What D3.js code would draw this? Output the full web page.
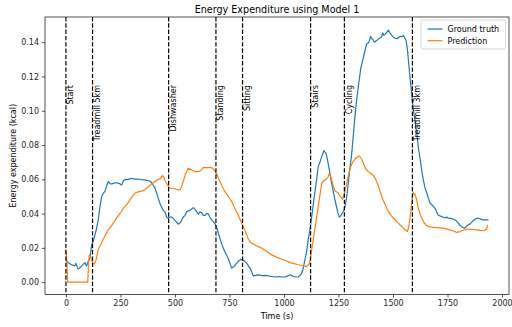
<!DOCTYPE html>
<html>
<head>
<meta charset="utf-8">
<script src="https://cdn.jsdelivr.net/npm/d3@7"></script>
<style>
  body { margin: 0; background: #fff; }
  svg { display: block; font-family: "DejaVu Sans", sans-serif; }
</style>
</head>
<body>
<svg id="chart" width="512" height="327"></svg>
<script>
// ground truth (time s, kcal)
const truthTime = [0,10,18,30,41,45,50,56,65,72,80,87,95,102,110,118,125,133,140,148,156,164,172,179,186,194,202,210,220,233,245,255,263,271,285,300,315,332,345,362,375,385,393,400,408,416,423,431,438,446,454,462,469,478,486,500,516,526,538,546,554,569,584,595,607,614,622,630,638,645,653,660,668,678,687,696,706,718,729,744,752,760,770,783,793,803,812,821,832,844,852,859,870,882,900,915,928,945,959,975,990,1005,1015,1028,1036,1043,1055,1066,1075,1081,1088,1096,1104,1111,1119,1127,1134,1142,1150,1157,1165,1173,1183,1193,1200,1208,1215,1223,1232,1241,1248,1254,1262,1269,1275,1280,1288,1295,1302,1310,1318,1325,1333,1342,1352,1362,1372,1379,1387,1392,1397,1403,1409,1415,1422,1430,1440,1447,1453,1458,1463,1470,1479,1486,1494,1505,1517,1525,1532,1540,1547,1554,1560,1566,1571,1576,1581,1587,1593,1601,1609,1616,1624,1632,1639,1647,1655,1662,1670,1680,1693,1700,1708,1718,1731,1740,1747,1754,1765,1777,1788,1800,1808,1815,1822,1830,1840,1853,1865,1876,1884,1892,1905,1915,1925,1938];
const truthValues = [0.013,0.0115,0.0107,0.010,0.0095,0.011,0.0095,0.0076,0.0085,0.0095,0.0105,0.0114,0.0095,0.012,0.014,0.0217,0.024,0.0276,0.031,0.0363,0.044,0.050,0.052,0.053,0.056,0.0587,0.0575,0.0573,0.0578,0.058,0.0575,0.0567,0.059,0.060,0.0598,0.0606,0.0601,0.0602,0.0598,0.0597,0.0592,0.059,0.058,0.0567,0.055,0.052,0.049,0.046,0.044,0.042,0.041,0.038,0.0373,0.038,0.0379,0.036,0.0338,0.035,0.038,0.039,0.041,0.042,0.0435,0.042,0.0396,0.041,0.0406,0.039,0.039,0.040,0.0398,0.038,0.0363,0.035,0.0334,0.030,0.0257,0.021,0.0178,0.014,0.011,0.0082,0.009,0.011,0.0125,0.0134,0.0128,0.012,0.0105,0.0082,0.006,0.0037,0.004,0.0043,0.0038,0.004,0.0037,0.0033,0.003,0.0033,0.0031,0.003,0.0035,0.0043,0.0038,0.0033,0.003,0.003,0.004,0.0052,0.008,0.013,0.018,0.0247,0.031,0.038,0.045,0.0528,0.060,0.0674,0.070,0.0732,0.0767,0.0752,0.071,0.0655,0.060,0.0548,0.049,0.044,0.040,0.038,0.039,0.0406,0.042,0.044,0.050,0.0577,0.066,0.0742,0.0857,0.096,0.106,0.115,0.1246,0.130,0.1353,0.139,0.1395,0.141,0.1434,0.142,0.1414,0.140,0.1407,0.1415,0.1426,0.143,0.1454,0.144,0.1446,0.1455,0.147,0.1455,0.144,0.1425,0.142,0.1425,0.1434,0.1432,0.144,0.1425,0.141,0.136,0.129,0.122,0.1158,0.108,0.101,0.094,0.0869,0.079,0.0723,0.065,0.0597,0.055,0.052,0.049,0.046,0.045,0.0431,0.041,0.039,0.0385,0.0379,0.0375,0.038,0.0373,0.0372,0.0367,0.036,0.0344,0.033,0.0324,0.0318,0.0315,0.033,0.034,0.0355,0.0367,0.0372,0.0373,0.0366,0.0363,0.0363,0.0363];

// model prediction
const predTime = [0,5,8,100,104,107,112,118,124,130,138,148,160,171,183,194,210,225,245,263,280,294,305,317,335,355,367,378,390,400,412,423,432,442,448,455,462,470,477,486,500,516,525,532,538,548,561,572,584,595,607,618,630,645,661,672,683,695,706,718,729,745,760,775,790,802,813,825,836,846,859,878,898,920,944,965,989,1010,1028,1043,1060,1073,1090,1104,1116,1125,1134,1145,1157,1165,1173,1183,1193,1201,1208,1213,1219,1226,1234,1249,1258,1269,1278,1288,1295,1303,1315,1326,1336,1346,1355,1364,1375,1387,1397,1407,1416,1425,1436,1448,1463,1479,1497,1517,1532,1547,1558,1566,1573,1581,1587,1593,1601,1609,1616,1624,1632,1643,1655,1670,1685,1710,1731,1761,1780,1792,1803,1815,1835,1853,1870,1884,1900,1915,1925,1930,1934];
const predValues = [0.019,0.010,0.0,0.0,0.012,0.016,0.0155,0.013,0.011,0.0105,0.013,0.019,0.022,0.025,0.028,0.0305,0.033,0.036,0.0395,0.043,0.0455,0.048,0.050,0.052,0.0528,0.0534,0.0545,0.0557,0.057,0.058,0.059,0.060,0.0603,0.0622,0.0615,0.059,0.0577,0.056,0.0548,0.0548,0.0545,0.0538,0.054,0.0565,0.0587,0.063,0.0665,0.0658,0.065,0.0645,0.0645,0.065,0.067,0.0668,0.067,0.0665,0.065,0.062,0.0587,0.0555,0.0528,0.050,0.047,0.043,0.039,0.0357,0.0324,0.029,0.0252,0.0232,0.0223,0.021,0.0198,0.018,0.0159,0.0146,0.0134,0.0125,0.0114,0.011,0.0103,0.010,0.0095,0.0091,0.0105,0.017,0.0247,0.034,0.044,0.051,0.0577,0.059,0.060,0.061,0.0636,0.062,0.0597,0.056,0.0532,0.052,0.050,0.0484,0.052,0.0577,0.062,0.0665,0.070,0.0717,0.073,0.0736,0.072,0.0694,0.066,0.0645,0.0635,0.0626,0.061,0.0587,0.055,0.050,0.0455,0.0412,0.038,0.0353,0.0335,0.0315,0.0303,0.0295,0.033,0.0402,0.048,0.0522,0.051,0.048,0.0431,0.040,0.0373,0.0345,0.0328,0.0323,0.032,0.0317,0.0315,0.0305,0.0297,0.029,0.0293,0.030,0.0307,0.031,0.0307,0.0305,0.0302,0.030,0.0305,0.031,0.0334];

// activity boundaries
const activityTimes = [0, 122, 471, 688, 810, 1122, 1277, 1589];
const activityNames = ['Start', 'Treadmill 5km', 'Dishwasher', 'Standing', 'Sitting', 'Stairs', 'Cycling', 'Treadmill 3km'];
const activityLabelY = 0.115;

const xTicks = [0, 250, 500, 750, 1000, 1250, 1500, 1750, 2000];
const yTicks = [0, 0.02, 0.04, 0.06, 0.08, 0.10, 0.12, 0.14];

const seriesNames = ['Ground truth', 'Prediction'];
const seriesColors = ['#1f77b4', '#ff7f0e'];

const margin = {top: 17, right: 3, bottom: 32.5, left: 45};
const width = 512, height = 327;

const svg = d3.select('#chart');

const x = d3.scaleLinear()
  .domain([-96, 2032])
  .range([margin.left, width - margin.right]);

const y = d3.scaleLinear()
  .domain([-0.0072, 0.1547])
  .range([height - margin.bottom, margin.top]);

// axes
const xAxis = svg.append('g')
  .attr('transform', `translate(0,${height - margin.bottom})`)
  .call(d3.axisBottom(x).tickValues(xTicks).tickSize(3).tickPadding(3).tickFormat(d3.format('d')));

const yAxis = svg.append('g')
  .attr('transform', `translate(${margin.left},0)`)
  .call(d3.axisLeft(y).tickValues(yTicks).tickSize(3).tickPadding(3).tickFormat(d3.format('.2f')));

[xAxis, yAxis].forEach(a => {
  a.select('.domain').remove();
  a.selectAll('text').attr('font-size', 8).attr('fill', '#262626').attr('font-family', '"DejaVu Sans", sans-serif');
  a.selectAll('line').attr('stroke', '#262626').attr('stroke-width', 0.8);
});

const lineGen = d3.line()
  .x(d => x(d[0]))
  .y(d => y(d[1]));

const clip = svg.append('clipPath').attr('id', 'plot-clip')
  .append('rect')
  .attr('x', margin.left).attr('y', margin.top)
  .attr('width', width - margin.left - margin.right)
  .attr('height', height - margin.top - margin.bottom);

const plot = svg.append('g').attr('clip-path', 'url(#plot-clip)');

plot.append('path')
  .datum(d3.zip(truthTime, truthValues))
  .attr('fill', 'none')
  .attr('stroke', seriesColors[0])
  .attr('stroke-width', 1.2)
  .attr('stroke-linejoin', 'round')
  .attr('d', lineGen);

plot.append('path')
  .datum(d3.zip(predTime, predValues))
  .attr('fill', 'none')
  .attr('stroke', seriesColors[1])
  .attr('stroke-width', 1.2)
  .attr('stroke-linejoin', 'round')
  .attr('d', lineGen);

// activity markers
plot.selectAll('.activity-line')
  .data(activityTimes)
  .enter().append('line')
  .attr('class', 'activity-line')
  .attr('x1', d => x(d)).attr('x2', d => x(d))
  .attr('y1', margin.top).attr('y2', height - margin.bottom)
  .attr('stroke', '#000')
  .attr('stroke-width', 1.2)
  .attr('stroke-dasharray', '4.4,1.9');

svg.selectAll('.activity-label')
  .data(activityTimes)
  .enter().append('text')
  .attr('class', 'activity-label')
  .attr('transform', d => `translate(${x(d) + 7.5},${y(activityLabelY)}) rotate(-90)`)
  .attr('text-anchor', 'end')
  .attr('font-size', 8)
  .attr('fill', '#000')
  .text((d, i) => activityNames[i]);

// frame
svg.append('rect')
  .attr('x', margin.left).attr('y', margin.top)
  .attr('width', width - margin.left - margin.right)
  .attr('height', height - margin.top - margin.bottom)
  .attr('fill', 'none')
  .attr('stroke', '#262626')
  .attr('stroke-width', 0.8);

// labels
svg.append('text')
  .attr('x', (margin.left + width - margin.right) / 2)
  .attr('y', 12.5)
  .attr('text-anchor', 'middle')
  .attr('font-size', 9.6)
  .attr('fill', '#000')
  .text('Energy Expenditure using Model 1');

svg.append('text')
  .attr('x', (margin.left + width - margin.right) / 2)
  .attr('y', 319)
  .attr('text-anchor', 'middle')
  .attr('font-size', 8)
  .attr('fill', '#000')
  .text('Time (s)');

svg.append('text')
  .attr('transform', `translate(15.5,${(margin.top + height - margin.bottom) / 2}) rotate(-90)`)
  .attr('text-anchor', 'middle')
  .attr('font-size', 8)
  .attr('fill', '#000')
  .text('Energy expenditure (kcal)');

// legend
const legend = svg.append('g').attr('transform', 'translate(421,20)');
legend.append('rect')
  .attr('width', 84.5).attr('height', 29)
  .attr('rx', 2)
  .attr('fill', '#fff')
  .attr('fill-opacity', 0.8)
  .attr('stroke', '#cccccc')
  .attr('stroke-width', 0.8);

seriesNames.forEach((name, i) => {
  const row = legend.append('g').attr('transform', `translate(0,${9 + i * 11.7})`);
  row.append('line')
    .attr('x1', 6.5).attr('x2', 21.5)
    .attr('stroke', seriesColors[i])
    .attr('stroke-width', 1.2);
  row.append('text')
    .attr('x', 26.5).attr('y', 3)
    .attr('font-size', 8)
    .attr('fill', '#000')
    .text(name);
});
</script>
</body>
</html>
